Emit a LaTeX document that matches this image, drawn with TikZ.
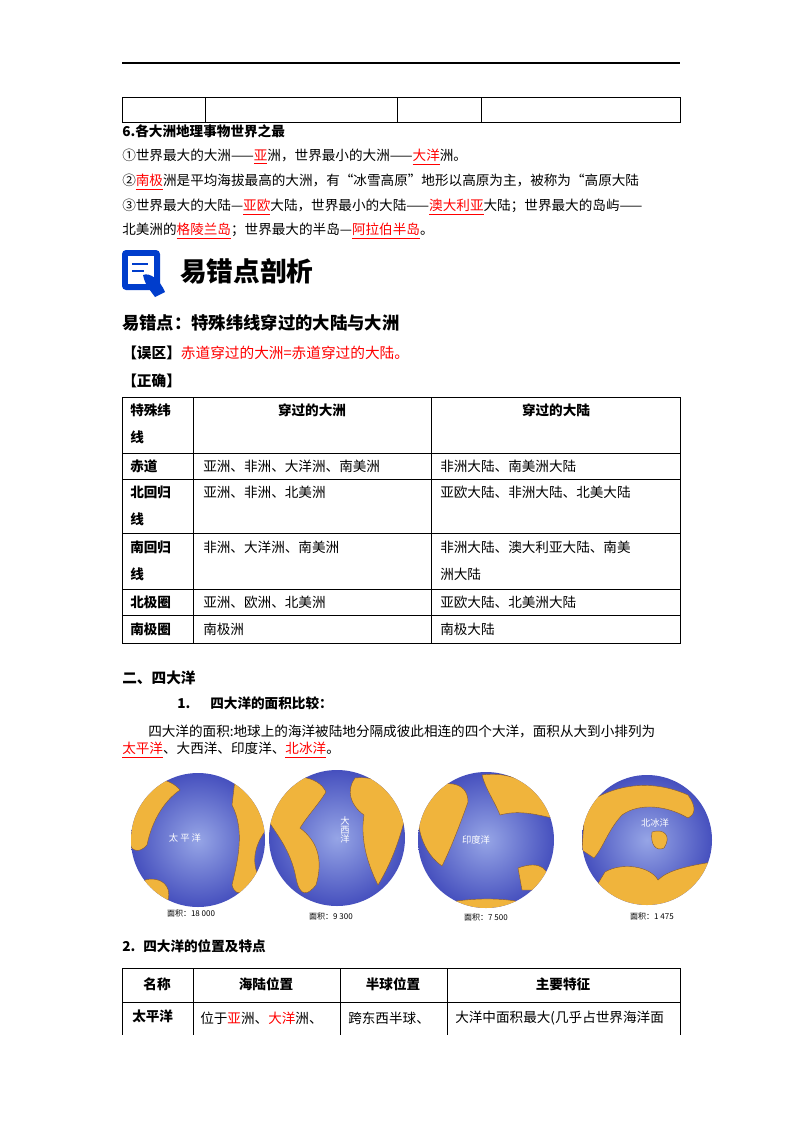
\documentclass[tikz,border=0pt]{standalone}
\usepackage{fontspec}
\setmainfont{Noto Sans CJK SC}
\usetikzlibrary{shapes.geometric}
\newcommand{\ru}[1]{\textcolor{red}{\underline{#1}}}
\newcommand{\fs}[1]{\fontsize{#1}{#1}\selectfont}
\definecolor{oc}{RGB}{70,80,190}
\definecolor{ocl}{RGB}{150,165,230}
\definecolor{ld}{RGB}{240,180,60}
\tikzset{
 t/.style={anchor=west,inner sep=0pt,font=\fs{10.2pt}},
 tb/.style={t,font=\fs{10.2pt}\bfseries},
 tc/.style={anchor=center,inner sep=0pt,font=\fs{10.2pt}\bfseries},
 gl/.style={draw=none,inner color=ocl,outer color=oc},
 land/.style={fill=ld,draw=brown!70!black,line width=0.3pt},
 lbl/.style={inner sep=0pt,font=\fs{6pt}}
}
\begin{document}
\begin{tikzpicture}[x=0.75pt,y=-0.75pt]
\useasboundingbox (0,0) rectangle (800,1132);
\fill[white] (0,0) rectangle (800,1132);
\draw[line width=0.8pt] (122,63) -- (680,63);
\draw (122,97) rectangle (680,122);
\foreach \x in {205,397,481} \draw (\x,97) -- (\x,122);
\node[tb] (h6) at (122,131) {6.各大洲地理事物世界之最};
\node[t] (l1) at (122,157) {①世界最大的大洲——\ru{亚}洲，世界最小的大洲——\ru{大洋}洲。};
\node[t] (l2) at (122,182) {②\ru{南极}洲是平均海拔最高的大洲，有“冰雪高原”地形以高原为主，被称为“高原大陆};
\node[t] (l3) at (122,207) {③世界最大的大陆—\ru{亚欧}大陆，世界最小的大陆——\ru{澳大利亚}大陆；世界最大的岛屿——};
\node[t] (l4) at (122,231) {北美洲的\ru{格陵兰岛}；世界最大的半岛—\ru{阿拉伯半岛}。};
\fill[blue!70!cyan!80!black,rounded corners=3pt] (122,250) rectangle (160,290);
\fill[white] (128,256) rectangle (154,284);
\draw[blue!70!cyan!80!black,line width=1.5pt] (132,264)--(148,264) (132,271)--(144,271);
\fill[blue!70!cyan!80!black] (143,275) .. controls (150,272) and (160,280) .. (165,292) -- (155,297) .. controls (150,290) and (145,285) .. (143,275);
\node[anchor=west,inner sep=0pt,font=\fs{20pt}\bfseries] (title) at (180,271) {易错点剖析};
\node[anchor=west,inner sep=0pt,font=\fs{13pt}\bfseries] (sub) at (122,323) {易错点：特殊纬线穿过的大陆与大洲};
\node[t,font=\fs{11pt}] (wq) at (122,353) {\textbf{【误区】}\textcolor{red}{赤道穿过的大洲=赤道穿过的大陆。}};
\node[tb,font=\fs{11pt}\bfseries] (zq) at (122,381) {【正确】};
\draw (122,397) rectangle (680,643);
\foreach \y in {453,479,533,589,615} \draw (122,\y) -- (680,\y);
\draw (193,397)--(193,643) (431,397)--(431,643);
\node[tb] at (130,410) {特殊纬};
\node[tb] at (130,437) {线};
\node[tc] at (312,410) {穿过的大洲};
\node[tc] at (556,410) {穿过的大陆};
\node[tb] at (130,466) {赤道};
\node[t] at (203,466) {亚洲、非洲、大洋洲、南美洲};
\node[t] at (440,466) {非洲大陆、南美洲大陆};
\node[tb] at (130,492) {北回归};
\node[tb] at (130,519) {线};
\node[t] at (203,492) {亚洲、非洲、北美洲};
\node[t] at (440,492) {亚欧大陆、非洲大陆、北美大陆};
\node[tb] at (130,547) {南回归};
\node[tb] at (130,574) {线};
\node[t] at (203,547) {非洲、大洋洲、南美洲};
\node[t] at (440,547) {非洲大陆、澳大利亚大陆、南美};
\node[t] at (440,574) {洲大陆};
\node[tb] at (130,602) {北极圈};
\node[t] at (203,602) {亚洲、欧洲、北美洲};
\node[t] at (440,602) {亚欧大陆、北美洲大陆};
\node[tb] at (130,629) {南极圈};
\node[t] at (203,629) {南极洲};
\node[t] at (440,629) {南极大陆};
\node[tb,font=\fs{11pt}\bfseries] (s2) at (122,678) {二、四大洋};
\node[tb] (s21) at (177,703) {1.\hspace{15pt}四大洋的面积比较：};
\node[t] (p1) at (148,731) {四大洋的面积:地球上的海洋被陆地分隔成彼此相连的四个大洋，面积从大到小排列为};
\node[t] (p2) at (122,750) {\ru{太平洋}、大西洋、印度洋、\ru{北冰洋}。};
% globes
\shade[gl] (198,840) circle (67);
\begin{scope}\clip (198,840) circle (67);
\fill[land] (128,785) .. controls (150,775) and (170,778) .. (180,790) .. controls (165,800) and (152,820) .. (147,845) .. controls (138,855) and (130,850) .. (128,840) -- cycle;
\fill[land] (235,780) .. controls (260,788) and (270,805) .. (266,830) .. controls (258,840) and (250,858) .. (258,875) .. controls (250,892) and (236,900) .. (232,885) .. controls (238,860) and (245,830) .. (232,805) -- cycle;
\fill[land] (145,880) .. controls (160,876) and (172,885) .. (168,900) -- (135,905) -- cycle;
\end{scope}
\node[lbl,white,font=\fs{7pt}] at (185,838) {太 平 洋};
\node[lbl] at (191,913) {面积：18 000};
\shade[gl] (337,838) circle (68);
\begin{scope}\clip (337,838) circle (68);
\fill[land] (268,785) .. controls (290,772) and (318,775) .. (326,792) .. controls (318,805) and (308,815) .. (300,828) .. controls (316,840) and (324,858) .. (316,885) .. controls (308,895) and (300,898) .. (296,878) .. controls (291,850) and (275,832) .. (268,820) -- cycle;
\fill[land] (355,778) .. controls (382,775) and (402,792) .. (405,818) .. controls (398,845) and (390,865) .. (378,885) .. controls (368,865) and (360,840) .. (364,815) .. controls (350,805) and (346,790) .. (355,778) -- cycle;
\end{scope}
\node[lbl,white,font=\fs{7pt},align=center] at (345,830) {大\\西\\洋};
\node[lbl] at (331,916) {面积：9 300};
\shade[gl] (486,840) circle (68);
\begin{scope}\clip (486,840) circle (68);
\fill[land] (418,795) .. controls (442,778) and (468,780) .. (468,802) .. controls (458,830) and (450,850) .. (442,866) .. controls (428,856) and (420,840) .. (418,820) -- cycle;
\fill[land] (482,775) .. controls (515,770) and (548,790) .. (552,818) .. controls (535,814) and (518,810) .. (500,815) .. controls (494,800) and (486,790) .. (482,775) -- cycle;
\fill[land] (518,868) .. controls (540,860) and (552,868) .. (548,890) -- (522,890) -- cycle;
\fill[land] (450,902) .. controls (480,897) and (515,898) .. (535,906) -- (535,915) -- (450,915) -- cycle;
\end{scope}
\node[lbl,white,font=\fs{7pt}] at (476,840) {印度洋};
\node[lbl] at (486,917) {面积：7 500};
\shade[gl] (647,840) circle (65);
\begin{scope}\clip (647,840) circle (65);
\fill[land] (585,805) .. controls (612,785) and (650,778) .. (688,795) .. controls (696,806) and (696,814) .. (688,818) .. controls (668,806) and (640,802) .. (622,815) .. controls (608,830) and (603,848) .. (594,858) -- (582,850) -- cycle;
\fill[land] (605,872) .. controls (622,862) and (650,866) .. (658,880) .. controls (668,870) and (688,866) .. (712,862) -- (712,910) -- (582,910) -- cycle;
\fill[land] (652,832) .. controls (664,828) and (672,836) .. (664,848) .. controls (656,852) and (650,844) .. (652,832) -- cycle;
\end{scope}
\node[lbl,white,font=\fs{7pt}] at (655,823) {北冰洋};
\node[lbl] at (652,916) {面积：1 475};
\node[tb] (s22) at (122,946) {2.\hspace{6pt}四大洋的位置及特点};
\draw (122,968) -- (680,968) (122,1002) -- (680,1002);
\draw (122,968)--(122,1035) (193,968)--(193,1035) (340,968)--(340,1035) (447,968)--(447,1035) (680,968)--(680,1035);
\node[tc] at (157,984) {名称};
\node[tc] at (266,984) {海陆位置};
\node[tc] at (393,984) {半球位置};
\node[tc] at (563,984) {主要特征};
\node[tb] at (132,1016) {太平洋};
\node[t] at (200,1018) {位于\textcolor{red}{亚}洲、\textcolor{red}{大洋}洲、};
\node[t] at (348,1018) {跨东西半球、};
\node[t] at (455,1018) {大洋中面积最大(几乎占世界海洋面};
\end{tikzpicture}
\end{document}
